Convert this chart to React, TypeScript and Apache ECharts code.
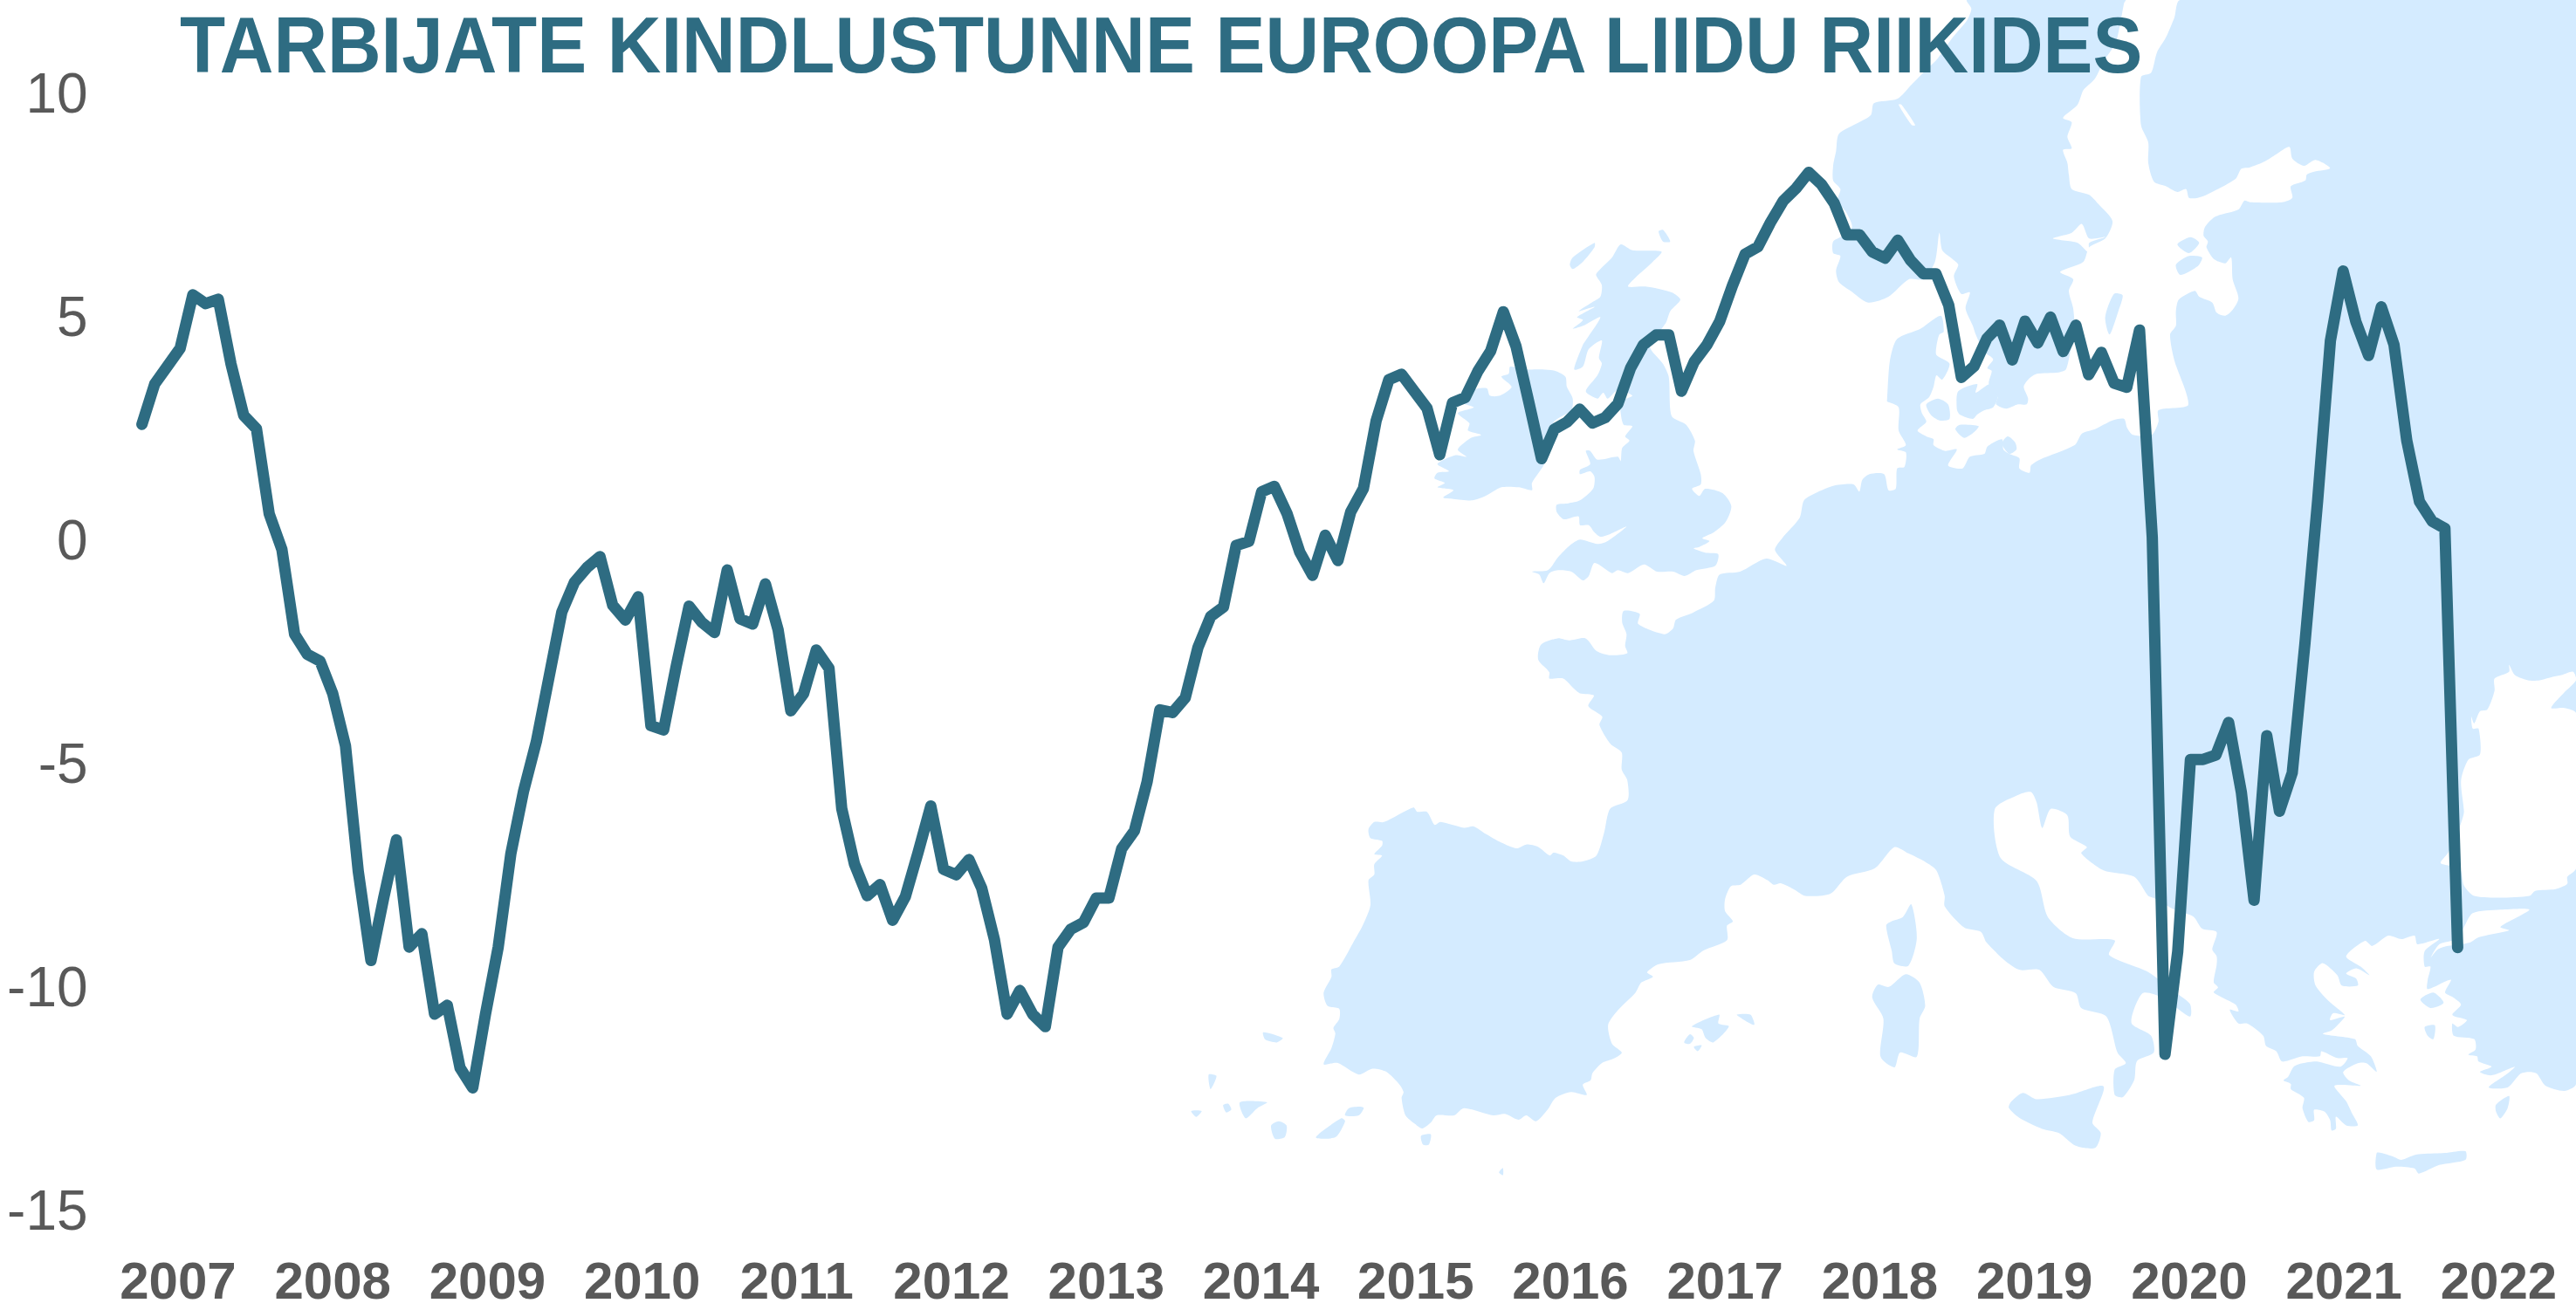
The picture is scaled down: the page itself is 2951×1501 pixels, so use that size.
import React, { useEffect, useRef } from "react";
import * as echarts from "echarts";

const TITLE = "TARBIJATE KINDLUSTUNNE EUROOPA LIIDU RIIKIDES";
const YEARS = ["2007","2008","2009","2010","2011","2012","2013","2014","2015","2016","2017","2018","2019","2020","2021","2022"];
const CONFIDENCE_A = [2.6,3.5,3.9,4.3,5.5,5.3,5.4,3.95,2.8,2.5,0.6,-0.2,-2.1,-2.55,-2.7,-3.43,-4.6,-7.4,-9.4,-8.0,-6.7,-9.1,-8.8,-10.6,-10.4,-11.8,-12.25,-10.6,-9.1,-7.0,-5.6,-4.5,-3.05,-1.6,-0.93,-0.6,-0.36,-1.45,-1.78,-1.26];
const CONFIDENCE_B = [-4.14,-4.24,-2.8,-1.47,-1.83,-2.06,-0.66,-1.75,-1.87,-0.97,-2.0,-3.81,-3.43,-2.45,-2.86,-6.0,-7.24,-7.95,-7.7,-8.5,-7.97,-6.98,-5.94,-7.36,-7.48,-7.14,-7.78,-8.93,-10.6,-10.07,-10.6,-10.88,-9.1,-8.7,-8.55,-8.0,-8.0,-6.9,-6.5,-5.4];
const CONFIDENCE_C = [-3.79,-3.85,-3.52,-2.39,-1.7,-1.49,-0.11,-0.02,1.09,1.21,0.6,-0.26,-0.78,0.12,-0.45,0.64,1.16,2.68,3.6,3.72,3.34,2.96,1.92,3.08,3.2,3.79,4.24,5.12,4.34,3.1,1.83,2.49,2.65,2.94,2.63,2.75,3.06,3.86,4.38,4.6];
const CONFIDENCE_D = [4.6,3.34,4.0,4.38,4.9,5.7,6.41,6.57,7.12,7.6,7.88,8.24,7.97,7.55,6.84,6.84,6.46,6.32,6.72,6.27,5.97,5.97,5.27,3.65,3.9,4.52,4.82,4.04,4.91,4.42,5.0,4.23,4.82,3.71,4.21,3.52,3.43,4.71,0.07,-11.5];
const CONFIDENCE_E = [-9.2,-4.9,-4.9,-4.8,-4.07,-5.63,-8.05,-4.37,-6.06,-5.2,-2.3,0.9,4.47,6.03,4.9,4.14,5.23,4.38,2.24,0.87,0.43,0.27,-9.11];
const CONFIDENCE = [...CONFIDENCE_A, ...CONFIDENCE_B, ...CONFIDENCE_C, ...CONFIDENCE_D, ...CONFIDENCE_E];
const MONTHS = CONFIDENCE.map((_, i) => String(i));

const LAND = "#D4EBFF";
const INK = "#2E6C82";
const GREY = "#595959";
const FONT = "'Liberation Sans', Arial, sans-serif";

type Frame = [number, number, number, number];
const Z3: Frame = [1000, 300, 1.568, 2.063];
const Z5: Frame = [1950, 740, 1.566, 2.06];
const Z6: Frame = [1340, 880, 2.24, 2.99];
const Z7: Frame = [1600, 240, 3, 3];
const Z8: Frame = [2040, 0, 3, 3];
const Z9: Frame = [2100, 380, 3, 3];
const Z10: Frame = [2451, 0, 3, 3];
const Z11: Frame = [2451, 740, 3, 2.53];

const at = (f: Frame, flat: number[]) => {
  const out: number[][] = [];
  for (let i = 0; i < flat.length; i += 2) out.push([f[0] + flat[i] / f[2], f[1] + flat[i + 1] / f[3]]);
  return out;
};

const MAINLAND = [
  ...at(Z10, [140,0,120,60,90,130,60,180,40,250,5,265,5,430,30,490,30,560,50,625,90,640,130,660,160,650,170,680,200,680,230,670,330,615,350,580,380,575,430,555,470,530,515,505,525,545,565,570,605,550,655,578,600,590,575,600,570,620,520,640,525,680,490,695,380,695,360,690,340,720,260,745,225,780,220,810,235,830,230,850,255,890,295,905,315,885,320,960,340,1025,320,1065,295,1085,265,1075,250,1040,205,1020,190,1000,135,1030,125,1070,125,1120,105,1150,120,1240,160,1350,165,1395,65,1410]),
  ...at(Z9, [1118,310,1095,355,1030,355,1010,330,1000,300,960,305,900,335,855,350,830,390,710,440,680,460,675,485,640,470,640,435,605,420,585,405,580,370,530,395,520,420,470,430,445,470,395,460,425,405,385,410,345,390,345,370,320,360,290,340,320,310,305,280,300,250,330,225,345,190,355,150,375,165,400,110,355,80,355,50,365,10,380,0]),
  ...at(Z8, [550,1085,480,1130,400,1165,375,1240,365,1380]),
  ...at(Z9, [185,240,225,260,225,340,250,390,220,405,250,415,245,465,220,470,215,540,190,545,175,490,125,490,100,510,90,550,70,525,0,530]),
  ...at(Z7, [1450,970,1400,1000,1385,1060,1325,1130,1300,1170,1340,1225,1270,1200,1180,1245,1110,1255,1095,1300,1090,1345,1020,1385,960,1410,950,1440,920,1460,830,1425,835,1390,780,1380,775,1420,790,1460,785,1500]),
  ...at(Z3, [1355,925,1325,930,1300,920,1280,890,1250,895,1230,890,1200,905,1195,940,1215,970,1215,985,1240,985,1260,1010,1270,1020,1295,1025,1285,1050,1310,1075,1305,1095,1325,1140,1345,1160,1345,1200,1355,1225]),
  ...at(Z6, [1175,110,1130,140,1115,220,1095,300,1060,320,1030,320,1010,300,985,290,975,300,945,270,915,262,890,275,850,255,810,225,780,200,755,205,695,185,680,195,660,150,635,150,625,135,550,185,525,185,510,210,515,240,545,250,545,265,525,295,545,300,525,330,525,365,510,385,515,470,495,540,470,600,435,680,415,690,415,715,395,770,405,815,435,825,435,860,420,890,425,910,415,960,395,1015,430,1010,485,1050,520,1030,555,1040,590,1085,600,1110,595,1130,605,1190,630,1220,648,1235,670,1215,685,1190,730,1190,755,1165,830,1190,860,1185,895,1205,915,1190,940,1210,970,1170,990,1130,1030,1110,1070,1120,1060,1085,1080,1070,1085,1045,1110,1010,1140,995,1160,975,1135,945,1125,880,1150,830,1195,770,1210,735,1240,715,1225,700,1255,672,1335,658,1370,625,1430,590,1430,540,1445,525,1425,490,1425,450,1440,405,1465,400,1500,365,1535,385,1550,400,1568,395]),
  ...at(Z5, [165,575,185,590,230,585,260,545,310,525,345,475,370,490,400,510,420,530,435,590,435,615,470,665,500,675,510,700,545,745,570,765,605,765,630,805,670,820,680,855,725,875,745,960,760,985,740,1000,740,1060,755,1065,775,1025,780,980,810,960,805,920,770,890,790,820,825,830,875,875,875,845,840,810,800,770,730,730,740,695,665,690,620,640,600,555,535,500,525,385,570,350,590,345,600,370,610,430,625,385,655,400,660,450,690,475,680,490,720,530,775,545,800,590,810,595]),
  ...at(Z11, [120,765,185,785,215,820,265,830,250,880,265,900,265,925,255,975,270,990,255,1005,330,1040,340,1060,310,1055,340,1095,370,1095,425,1130,435,1160,470,1175,490,1205,560,1190,620,1190,625,1175,680,1195,715,1195,690,1220,610,1205,560,1210,530,1220,510,1250,495,1260,520,1270,520,1285,565,1310,560,1340,580,1380,600,1375,600,1345,635,1350,655,1375,660,1405,675,1400,675,1365,710,1390,750,1390,730,1355,710,1320,670,1275,760,1275,720,1260,700,1235,750,1210,780,1210,815,1235,795,1190,750,1160,740,1140,630,1125,660,1115,680,1100,705,1075,655,1085,665,1065,705,1070,650,1030,605,985,600,945,630,920,680,955,695,985,750,985,745,965,710,950,745,935,790,955,760,930,710,900,775,855,800,870,855,840,900,850,945,840,955,865,1030,850,980,885,980,930,1000,930,990,970,990,995,1070,968,1050,1005,1080,1020,1105,1040,1075,1070,1125,1085,1095,1105,1075,1095,1080,1130,1150,1140,1155,1170,1130,1185,1160,1190,1165,1205,1210,1220,1170,1235,1210,1245,1290,1220,1265,1240,1200,1280,1265,1280,1310,1240,1340,1235,1365,1240,1395,1275,1460,1290,1500,1270]),
  [2951, 0],
];

const SCANDINAVIA = [
  ...at(Z8, [640,0,655,30,640,70,590,130,540,200,500,240,450,290,400,340,320,355,310,395,270,420,200,460,190,520,180,570,180,620,205,650,195,690,225,730,245,780,215,810,180,830,180,870,205,880,190,930,200,970,240,1000,300,1040,370,1020,440,960,490,960,530,900,545,800,555,860,590,890,610,910,595,950,620,1010,650,1005,635,1060,660,1120]),
  ...at(Z9, [490,10,520,70,550,95,530,125,545,135,535,180,565,225,560,250,595,265,635,250,665,250,670,230,655,190,670,165,700,145,775,140,800,130,815,70,830,0]),
  ...at(Z8, [1005,1060,990,1000,1005,960,960,935,1040,900,1060,850,1115,820,1140,760,1090,700,1060,670,1000,650,990,600,985,560,970,515,1000,510,985,470,1000,420,970,405,1020,360,1040,310,1080,270,1110,210,1150,150,1165,90,1180,10,1185,0]),
];

const BRITAIN = at(Z7, [770,120,810,140,910,145,880,180,820,235,795,265,855,265,945,285,975,310,940,350,925,390,870,470,915,530,935,575,945,710,995,740,1025,795,1020,830,1045,910,1045,945,1015,960,1040,985,1060,960,1120,975,1150,1020,1130,1075,1090,1110,1050,1130,1075,1140,1040,1160,1020,1165,1060,1180,1105,1185,1095,1225,1030,1240,990,1260,950,1245,895,1245,850,1220,795,1250,760,1240,740,1250,680,1215,660,1260,640,1275,600,1245,555,1240,525,1250,505,1285,490,1255,465,1245,520,1240,555,1195,595,1155,630,1135,690,1150,725,1140,790,1090,735,1115,700,1125,680,1110,660,1085,630,1085,625,1055,575,1065,550,1040,550,1015,590,1010,630,1000,675,960,680,920,665,900,630,910,630,895,665,875,650,830,665,830,690,860,760,850,770,865,775,820,800,795,785,780,810,745,780,740,770,700,770,660,810,640,760,620,725,650,710,630,690,650,650,625,690,570,705,530,695,510,705,450,660,480,640,540,610,550,640,465,650,450,700,370,640,400,605,410,640,380,620,370,680,335,625,350,670,320,700,300,705,260,685,225,695,210,740,165]);
const IRELAND = at(Z7, [390,540,440,550,500,550,545,555,580,575,585,610,605,650,600,690,540,730,525,790,510,870,465,940,465,965,420,955,360,955,305,985,260,1000,195,995,160,990,195,965,140,955,165,940,130,925,140,905,180,900,140,875,200,845,240,850,210,825,255,785,290,775,245,760,250,735,210,700,265,680,230,665,265,620,310,615,320,640,355,640,395,610,360,575,385,565]);

const ISLANDS = [
  at(Z7, [605,165,680,115,680,130,640,180,605,205,595,190]),
  at(Z7, [900,75,915,70,940,110,915,110]),
  at(Z9, [320,250,360,230,395,250,400,300,365,305,335,285]),
  at(Z9, [430,205,495,180,490,210,540,180,565,225,550,260,520,270,495,285,480,300,435,285,425,265]),
  at(Z9, [420,335,435,320,500,325,485,345,450,365]),
  at(Z9, [580,385,600,360,625,380,630,405,605,420]),
  at(Z8, [1145,1010,1175,1015,1160,1070,1130,1150,1115,1090]),
  at(Z10, [130,840,175,815,205,835,170,870]),
  at(Z10, [125,910,170,880,215,885,200,915,140,945]),
  at(Z5, [375,610,385,690,370,755,345,750,340,720,330,660,340,650,360,640]),
  at(Z5, [365,775,390,795,400,850,390,880,385,970,355,960,345,995,320,970,325,880,305,830,315,800,335,805]),
  at(Z5, [555,1075,575,1055,600,1070,660,1060,720,1040,700,1125,715,1150,705,1185,670,1180,640,1150,610,1140,570,1115,550,1090]),
  at(Z11, [815,1470,830,1470,870,1480,900,1490,950,1475,1050,1470,1120,1465,1120,1490,1030,1505,960,1530,945,1515,880,1510,815,1518]),
  at(Z11, [1225,1330,1270,1305,1265,1340,1240,1370,1225,1350]),
  at(Z11, [965,1025,1010,1005,1045,1035,1000,1050]),
  at(Z11, [980,1105,1015,1100,1010,1140,990,1130]),
  at(Z6, [1340,885,1410,845,1408,875,1435,885,1395,940,1375,925,1365,895]),
  at(Z6, [1455,845,1490,845,1500,880,1470,860]),
  at(Z6, [1320,940,1335,912,1345,925,1335,945]),
  at(Z6, [1345,955,1365,950,1355,970]),
  at(Z6, [100,1050,120,1055,105,1100]),
  at(Z6, [55,1175,82,1175,68,1195]),
  at(Z6, [137,1155,150,1150,158,1170,145,1180]),
  at(Z6, [180,1145,250,1145,225,1165,195,1200]),
  at(Z6, [260,1225,280,1210,300,1225,295,1265,270,1270]),
  at(Z6, [375,1265,440,1200,450,1210,425,1265]),
  at(Z6, [450,1190,460,1165,490,1160,498,1165,485,1190]),
  at(Z6, [240,905,290,925,275,940,245,930]),
  at(Z6, [645,1260,670,1255,665,1290,650,1290]),
  at(Z6, [855,1370,855,1395,845,1385]),
];

const WATERS = [
  at(Z11, [1035,630,1060,600,1085,560,1110,500,1115,480,1105,390,1130,330,1170,315,1165,240,1145,240,1140,205,1150,225,1170,190,1195,185,1220,130,1220,95,1270,75,1270,55,1290,85,1335,100,1375,100,1420,90,1450,85,1490,75,1500,100,1460,135,1415,180,1460,180,1500,195,1500,645,1470,670,1470,690,1430,705,1360,710,1340,725,1240,730,1150,725,1115,695,1100,645]),
  at(Z11, [1000,905,1030,865,1090,850,1115,815,1145,775,1240,765,1340,765,1240,815,1270,825,1165,845,1135,860,1060,870,1025,880]),
  at(Z8, [935,820,1000,800,1035,770,1060,820,1115,815,1060,835,1060,870,1020,835]),
  at(Z8, [405,360,415,360,462,430,450,430]),
];

const blob = (points: number[][], fill: string) => ({ type: "polygon", silent: true, shape: { points, smooth: 0.25 }, style: { fill } });

export default function App() {
  const ref = useRef<HTMLDivElement>(null);
  useEffect(() => {
    const chart = echarts.init(ref.current!, undefined, { renderer: "svg" });
    chart.setOption({
      animation: false,
      backgroundColor: "#ffffff",
      graphic: {
        elements: [
          blob(MAINLAND, LAND),
          blob(SCANDINAVIA, LAND),
          blob(BRITAIN, LAND),
          blob(IRELAND, LAND),
          ...ISLANDS.map((p) => blob(p, LAND)),
          ...WATERS.map((p) => blob(p, "#ffffff")),
          {
            type: "text",
            x: 206,
            y: 52,
            scaleX: 0.948,
            silent: true,
            z: 20,
            style: {
              text: TITLE,
              fill: INK,
              font: `bold 90px ${FONT}`,
              textAlign: "left",
              textVerticalAlign: "middle",
            },
          },
        ],
      },
      grid: [
        { left: 162.6, top: 107.3, width: 2652.8, height: 1280 },
        { left: 115.3, top: 107.3, width: 2838.4, height: 1280 },
      ],
      xAxis: [
        {
          type: "category",
          gridIndex: 0,
          data: MONTHS,
          boundaryGap: false,
          axisLine: { show: false },
          axisTick: { show: false },
          axisLabel: { show: false },
          splitLine: { show: false },
        },
        {
          type: "category",
          gridIndex: 1,
          data: YEARS,
          boundaryGap: true,
          axisLine: { show: false },
          axisTick: { show: false },
          splitLine: { show: false },
          axisLabel: { interval: 0, margin: 50, fontFamily: FONT, fontSize: 60, fontWeight: "bold", color: GREY },
        },
      ],
      yAxis: [
        {
          type: "value",
          gridIndex: 0,
          min: -15,
          max: 10,
          interval: 5,
          axisLine: { show: false },
          axisTick: { show: false },
          splitLine: { show: false },
          axisLabel: { margin: 62, fontFamily: FONT, fontSize: 64, color: GREY },
        },
        { type: "value", gridIndex: 1, show: false, min: 0, max: 1 },
      ],
      series: [
        {
          type: "line",
          xAxisIndex: 0,
          yAxisIndex: 0,
          data: CONFIDENCE,
          showSymbol: false,
          symbol: "none",
          lineStyle: { color: INK, width: 13, cap: "round", join: "round" },
          z: 5,
        },
      ],
    });
    return () => chart.dispose();
  }, []);
  return <div ref={ref} style={{ position: "absolute", left: 0, top: 0, width: 2951, height: 1501 }} />;
}
